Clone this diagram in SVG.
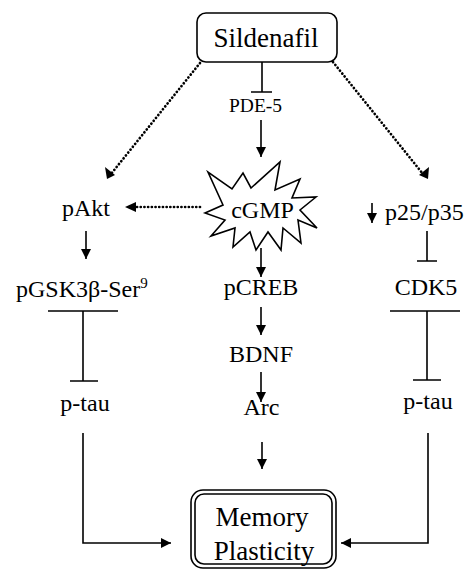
<svg xmlns="http://www.w3.org/2000/svg" width="467" height="570" viewBox="0 0 467 570">
<style>
text{font-family:"Liberation Serif","Times New Roman",serif;fill:#000}
.lbl{font-size:24px;text-anchor:middle}
.big{font-size:27px;text-anchor:middle}
.ln{stroke:#000;stroke-width:1.6;fill:none}
.dot{stroke:#000;stroke-width:2.7;fill:none;stroke-dasharray:0.1 3.6;stroke-linecap:round}
.box{fill:#fff;stroke:#000;stroke-width:1.6}
.head{fill:#000}
</style>
<defs>
<marker id="ah" viewBox="0 0 10 10" refX="10" refY="5" markerWidth="11" markerHeight="10" markerUnits="userSpaceOnUse" orient="auto">
<path d="M0,0 L10,5 L0,10 Z" fill="#000"/>
</marker>
</defs>
<g id="connectors">
<path class="dot" d="M200,63 L111,174"/>
<path class="head" d="M107,179 L105,167 L115,175 Z"/>
<path class="dot" d="M333,62 L423,174"/>
<path class="head" d="M428,179 L419,175 L429,167 Z"/>
<path class="dot" d="M200,207 L135,207"/>
<path class="head" d="M125,207 L136,202 L136,212 Z"/>
<path class="ln" d="M262,62 V92 M251,92 H272"/>
<path class="ln" d="M261,120 V157" marker-end="url(#ah)"/>
<path class="ln" d="M261,248 V277" marker-end="url(#ah)"/>
<path class="ln" d="M261,307 V335" marker-end="url(#ah)"/>
<path class="ln" d="M261,372 V402" marker-end="url(#ah)"/>
<path class="ln" d="M262,442 V469" marker-end="url(#ah)"/>
<path class="ln" d="M86,231 V259" marker-end="url(#ah)"/>
<path class="ln" d="M372,203 V223" marker-end="url(#ah)"/>
<path class="ln" d="M427,231 V261 M417,261 H437"/>
<path class="ln" d="M48,311 H118 M83,311 V381 M70,381 H98"/>
<path class="ln" d="M390,311 H460 M427,311 V380 M413,380 H441"/>
<path class="ln" d="M83,433 V543 H171" marker-end="url(#ah)"/>
<path class="ln" d="M428,433 V543 H341" marker-end="url(#ah)"/>
</g>
<g id="sildenafil">
<rect class="box" x="197" y="13" width="140" height="49" rx="9"/>
<text class="big" x="266" y="47">Sildenafil</text>
</g>
<g id="pde5"><text x="255.5" y="112" style="font-size:19.5px;text-anchor:middle">PDE-5</text></g>
<g id="cgmp">
<polygon class="box" points="205,213 223,205 208,172 232,189 243,173 251,188 280,162 275,190 300,179 292,198 316,197 300,210 317,228 298,220 301,243 283,228 281,250 268,232 256,250 250,232 233,247 235,228 211,236 225,220"/>
<text class="lbl" x="262.5" y="218">cGMP</text>
</g>
<g id="pakt"><text class="lbl" x="86" y="216">pAkt</text></g>
<g id="p25"><text x="385" y="220" style="font-size:24px">p25/p35</text></g>
<g id="pgsk"><text x="16" y="297" style="font-size:24px">pGSK3β-Ser<tspan font-size="15" dy="-9">9</tspan></text></g>
<g id="pcreb"><text class="lbl" x="261" y="295">pCREB</text></g>
<g id="cdk5"><text class="lbl" x="426" y="295">CDK5</text></g>
<g id="bdnf"><text class="lbl" x="261" y="362">BDNF</text></g>
<g id="arc"><text class="lbl" x="261.5" y="415">Arc</text></g>
<g id="ptau-left"><text class="lbl" x="85" y="411">p-tau</text></g>
<g id="ptau-right"><text class="lbl" x="428" y="409">p-tau</text></g>
<g id="memory">
<rect class="box" x="191" y="490" width="145" height="78" rx="12"/>
<rect class="box" x="195" y="494" width="137" height="70" rx="9"/>
<text class="big" x="262" y="526">Memory</text>
<text class="big" x="264" y="560">Plasticity</text>
</g>
</svg>
